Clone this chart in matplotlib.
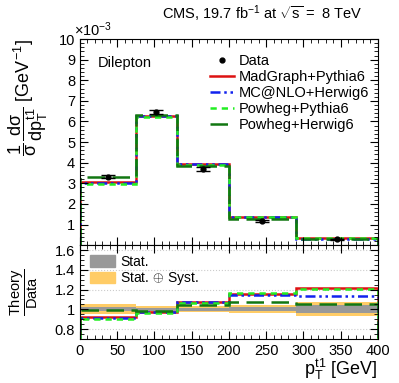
import numpy as np
import matplotlib.pyplot as plt
from matplotlib.ticker import MultipleLocator
from matplotlib.patches import Patch
from matplotlib.lines import Line2D

plt.rcParams['font.family'] = ['Liberation Sans', 'DejaVu Sans']
plt.rcParams['mathtext.fontset'] = 'custom'
plt.rcParams['mathtext.rm'] = 'Liberation Sans'
plt.rcParams['mathtext.it'] = 'Liberation Sans'

# --- dados (unidades de 1e-3 GeV^-1) ---
edges = [0, 75, 130, 200, 290, 400]
data_vals = [3.32, 6.46, 3.68, 1.18, 0.28]
data_err = [0.08, 0.12, 0.09, 0.05, 0.02]

# razoes Theory/Data
r_madgraph = [0.92, 0.97, 1.07, 1.16, 1.22]
r_mcatnlo = [0.91, 0.97, 1.07, 1.15, 1.13]
r_powheg_py = [0.90, 0.96, 1.06, 1.17, 1.21]
r_powheg_hw = [0.99, 0.98, 1.04, 1.07, 1.05]

stat_unc = [0.02, 0.015, 0.015, 0.02, 0.04]
tot_unc = [0.05, 0.03, 0.03, 0.04, 0.07]

modelos = [
    ("MadGraph+Pythia6", r_madgraph, "#dd1111", "-", 1.8),
    ("MC@NLO+Herwig6", r_mcatnlo, "#1122ee", (0, (4, 1.5, 1, 1.5, 1, 1.5)), 1.8),
    ("Powheg+Pythia6", r_powheg_py, "#22ee22", (0, (2.5, 2)), 1.8),
    ("Powheg+Herwig6", r_powheg_hw, "#117711", (0, (7, 3)), 1.8),
]

edges = np.array(edges)
data_vals = np.array(data_vals)
centros = 0.5 * (edges[1:] + edges[:-1])

fig = plt.figure(figsize=(3.99, 3.83), dpi=100)
ax = fig.add_axes([0.2005, 0.360, 0.7465, 0.538])
axr = fig.add_axes([0.2005, 0.115, 0.7465, 0.245], sharex=ax)

# --- painel superior ---
for nome, r, cor, ls, lw in modelos:
    ax.stairs(np.array(r) * data_vals, edges, color=cor, linestyle=ls, linewidth=lw)
ax.errorbar(centros, data_vals, yerr=data_err, fmt='o', color='k', ms=3.5,
            capsize=5, elinewidth=1, capthick=1)

ax.set_xlim(0, 400)
ax.set_ylim(0, 10)
ax.set_yticks(range(1, 11))
ax.yaxis.set_minor_locator(MultipleLocator(0.2))
ax.xaxis.set_major_locator(MultipleLocator(50))
ax.xaxis.set_minor_locator(MultipleLocator(10))
ax.tick_params(labelbottom=False)
ax.set_ylabel(r"$\dfrac{1}{\sigma}\,\dfrac{d\sigma}{dp_T^{t1}}$ [GeV$^{-1}$]",
              fontsize=13, loc='top')
ax.yaxis.set_label_coords(-0.10, 1.0)
ax.text(-0.02, 1.0, r"$\times$10$^{-3}$", transform=ax.transAxes, fontsize=10.5,
        ha='left', va='bottom')
ax.text(0.06, 0.92, "Dilepton", transform=ax.transAxes, fontsize=10.5, va='top')
fig.text(0.91, 0.937, r"CMS, 19.7 fb$^{-1}$ at $\sqrt{s}$ =  8 TeV", fontsize=10.5,
         ha='right', va='bottom')

handles = [Line2D([], [], marker='o', ms=3.5, color='k', ls='none')]
labels = ["Data"]
for nome, r, cor, ls, lw in modelos:
    handles.append(Line2D([], [], color=cor, linestyle=ls, linewidth=lw))
    labels.append(nome)
ax.legend(handles, labels, loc='upper right', bbox_to_anchor=(1.0, 0.97), frameon=False,
          fontsize=10.5, handlelength=1.7, handletextpad=0.3, labelspacing=0.14,
          borderaxespad=0.2)

# --- painel de razao ---
tot_unc = np.array(tot_unc)
stat_unc = np.array(stat_unc)
axr.stairs(1 + tot_unc, edges, baseline=1 - tot_unc, fill=True, color="#ffcc66", lw=0)
axr.stairs(1 + stat_unc, edges, baseline=1 - stat_unc, fill=True, color="#999999", lw=0)
for yv in [0.8, 1.2, 1.4, 1.6]:
    axr.axhline(yv, color='#cccccc', ls=':', lw=0.8, zorder=0)
for nome, r, cor, ls, lw in modelos:
    axr.stairs(r, edges, color=cor, linestyle=ls, linewidth=lw)

axr.set_ylim(0.7, 1.65)
axr.set_yticks([0.8, 1.0, 1.2, 1.4, 1.6])
axr.set_yticklabels(["0.8", "1", "1.2", "1.4", "1.6"])
axr.yaxis.set_minor_locator(MultipleLocator(0.05))
axr.set_ylabel(r"$\dfrac{\mathrm{Theory}}{\mathrm{Data}}$", fontsize=10.5)
axr.yaxis.set_label_coords(-0.135, 0.5)
axr.set_xlabel(r"$p_T^{t1}$ [GeV]", fontsize=13, loc='right', labelpad=-1)
axr.legend([Patch(color="#999999"), Patch(color="#ffcc66")],
           ["Stat.", r"Stat. $\oplus$ Syst."], loc='upper left', frameon=False,
           fontsize=10, handlelength=1.8, handleheight=0.9, labelspacing=0.1,
           handletextpad=0.4, borderaxespad=0.3)

for a in (ax, axr):
    a.tick_params(which='both', direction='in', top=True, right=True, labelsize=10.5)
    a.tick_params(which='major', length=6)
    a.tick_params(which='minor', length=3)
    for s in a.spines.values():
        s.set_linewidth(0.8)

fig.savefig("out.png", dpi=100)
